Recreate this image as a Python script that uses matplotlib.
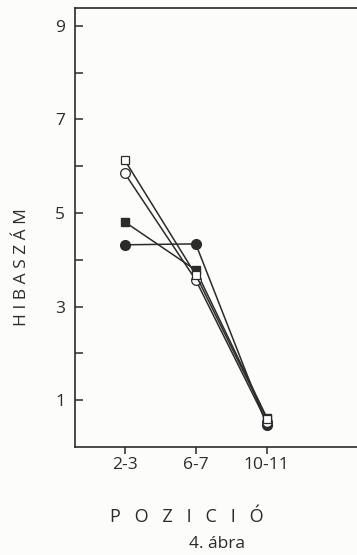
import matplotlib as mpl
mpl.use('Agg')
import matplotlib.pyplot as plt

positions = ['2-3', '6-7', '10-11']
open_square = [6.13, 3.68, 0.60]
open_circle = [5.85, 3.57, 0.53]
filled_square = [4.81, 3.78, 0.63]
filled_circle = [4.32, 4.34, 0.47]
y_labels = [1, 3, 5, 7, 9]
y_minor = [2, 4, 6, 8]

plt.rcParams['font.family'] = ['Open Sans', 'DejaVu Sans']
ink = '#2b2b2b'
bg = '#fcfcfa'

fig = plt.figure(figsize=(3.57, 5.55), dpi=100, facecolor=bg)
ax = fig.add_axes([0.210, 0.1946, 0.79, 0.791], facecolor=bg)

x = list(range(len(positions)))
lw = 1.1
ax.plot(x, filled_circle, color=ink, lw=lw, marker='o', ms=7, mfc=ink, mec=ink, zorder=3)
ax.plot(x, filled_square, color=ink, lw=lw, marker='s', ms=6, mfc=ink, mec=ink, zorder=3)
ax.plot(x, open_circle, color=ink, lw=lw, marker='o', ms=7, mfc='white', mec=ink, mew=0.9, zorder=4)
ax.plot(x, open_square, color=ink, lw=lw, marker='s', ms=6, mfc='white', mec=ink, mew=0.9, zorder=4)

ax.set_xlim(-0.70, 3.27)
ax.set_ylim(0, 9.38)
ax.set_xticks(x)
ax.set_xticklabels(positions, fontsize=12.5, color=ink)
ax.set_yticks(y_labels)
ax.set_yticklabels([str(v) for v in y_labels], fontsize=12.5, color=ink)
ax.set_yticks(y_minor, minor=True)

ax.spines['right'].set_visible(False)
for s in ['left', 'top', 'bottom']:
	ax.spines[s].set_color(ink)
	ax.spines[s].set_linewidth(1.2)
ax.tick_params(axis='y', which='both', direction='in', length=6, width=1.1, color=ink, pad=7)
ax.tick_params(axis='x', direction='out', length=5, width=1.1, color=ink, pad=2)

fig.text(0.062, 0.518, 'H I B A S Z Á M', rotation=90, ha='center', va='center', fontsize=12.5, color=ink)
fig.text(0.524, 0.068, 'P   O   Z   I   C   I   Ó', ha='center', va='center', fontsize=13, color=ink)
fig.text(0.608, 0.020, '4. ábra', ha='center', va='center', fontsize=12.5, color=ink)

plt.savefig('out.png', dpi=100, facecolor=bg)
